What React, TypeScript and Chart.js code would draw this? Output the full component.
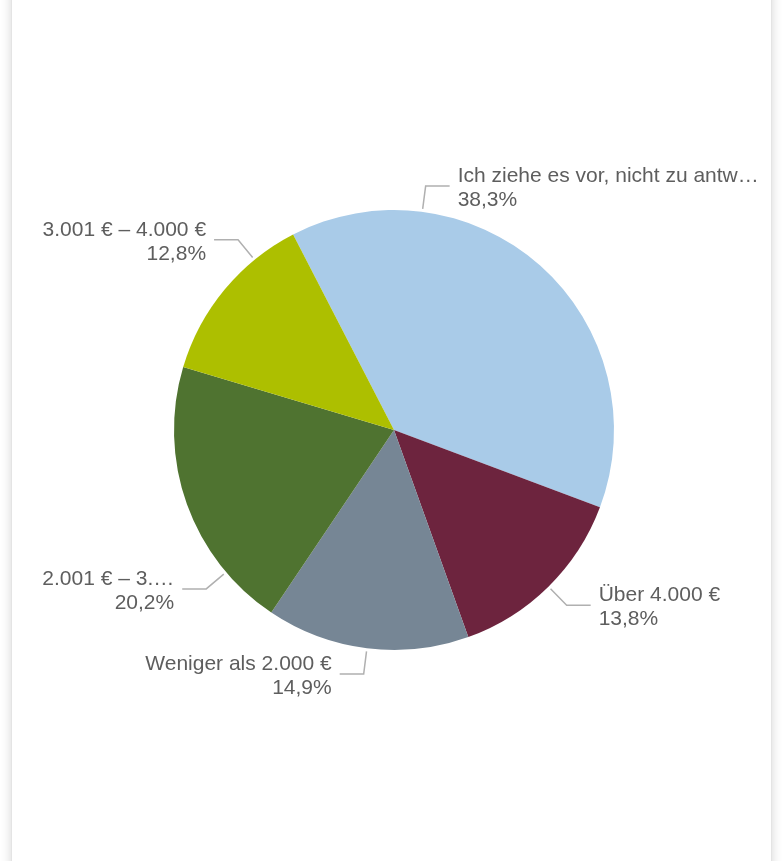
import React, { useEffect, useRef } from "react";
import { Chart, registerables } from "chart.js";

Chart.register(...registerables);

const categories = [
  "Ich ziehe es vor, nicht zu antw…",
  "Über 4.000 €",
  "Weniger als 2.000 €",
  "2.001 € – 3.…",
  "3.001 € – 4.000 €",
];
const percentages = [38.3, 13.8, 14.9, 20.2, 12.8];
const percentLabels = ["38,3%", "13,8%", "14,9%", "20,2%", "12,8%"];
const sliceColors = ["#a9cbe8", "#6d243e", "#768695", "#4f7330", "#adbf00"];

const FONT = '21px "Liberation Sans", Arial, sans-serif';
const TEXT_COLOR = "#5e5e5e";
const LINE_COLOR = "#b0b0b0";

const outsideLabels = {
  id: "outsideLabels",
  afterDraw(chart: any) {
    const ctx = chart.ctx as CanvasRenderingContext2D;
    const meta = chart.getDatasetMeta(0);
    const minX = 30;
    const maxX = 747;
    ctx.save();
    ctx.font = FONT;
    meta.data.forEach((arc: any, i: number) => {
      const { x: cx, y: cy, startAngle, endAngle, outerRadius: r } = arc.getProps(
        ["x", "y", "startAngle", "endAngle", "outerRadius"],
        true
      );
      const lines = [categories[i], percentLabels[i]];
      const w = Math.max(...lines.map((l) => ctx.measureText(l).width));
      const mid = (startAngle + endAngle) / 2;
      const right = Math.cos(mid) >= 0;
      const target = Math.sin(mid) < 0 ? -Math.PI / 2 : Math.PI / 2;
      const rE = r + 26;
      const fits = (a: number) => {
        const ex = cx + rE * Math.cos(a);
        return right ? ex + 32 + w <= maxX : ex - 32 - w >= minX;
      };
      let a = mid;
      const step = (0.25 * Math.PI) / 180;
      let guard = 0;
      while (!fits(a) && guard < 2000) {
        const dir = Math.sign(
          Math.atan2(Math.sin(target - a), Math.cos(target - a))
        );
        const na = a + dir * step;
        if (na <= startAngle + step || na >= endAngle - step) break;
        a = na;
        guard++;
      }
      const sx = cx + (r + 3) * Math.cos(a);
      const sy = cy + (r + 3) * Math.sin(a);
      const ex = cx + rE * Math.cos(a);
      const ey = cy + rE * Math.sin(a);
      const hx = right ? ex + 24 : ex - 24;
      ctx.strokeStyle = LINE_COLOR;
      ctx.lineWidth = 1.5;
      ctx.beginPath();
      ctx.moveTo(sx, sy);
      ctx.lineTo(ex, ey);
      ctx.lineTo(hx, ey);
      ctx.stroke();
      ctx.fillStyle = TEXT_COLOR;
      ctx.textAlign = right ? "left" : "right";
      ctx.textBaseline = "alphabetic";
      const tx = right ? hx + 8 : hx - 8;
      ctx.fillText(lines[0], tx, ey - 4);
      ctx.fillText(lines[1], tx, ey + 20);
    });
    ctx.restore();
  },
};

export default function App() {
  const ref = useRef<HTMLCanvasElement | null>(null);
  useEffect(() => {
    document.body.style.margin = "0";
    document.body.style.background = "#ffffff";
    const chart = new Chart(ref.current as HTMLCanvasElement, {
      type: "pie",
      data: {
        labels: categories,
        datasets: [
          {
            data: percentages,
            backgroundColor: sliceColors,
            borderWidth: 0,
          },
        ],
      },
      options: {
        animation: false,
        responsive: false,
        rotation: -27.3,
        layout: { padding: { left: 162, right: 157, top: 210, bottom: 211 } },
        plugins: {
          legend: { display: false },
          tooltip: { enabled: false },
        },
      },
      plugins: [outsideLabels],
    });
    return () => chart.destroy();
  }, []);
  return (
    <div
      style={{
        position: "absolute",
        left: 11,
        top: -20,
        width: 759,
        height: 901,
        background: "#fff",
        borderLeft: "1px solid #e4e4e4",
        borderRight: "1px solid #e4e4e4",
        boxShadow: "0 0 10px rgba(0,0,0,0.16)",
        overflow: "hidden",
      }}
    >
      <canvas
        ref={ref}
        width={759}
        height={861}
        style={{ position: "absolute", left: 0, top: 20, width: 759, height: 861 }}
      />
    </div>
  );
}
